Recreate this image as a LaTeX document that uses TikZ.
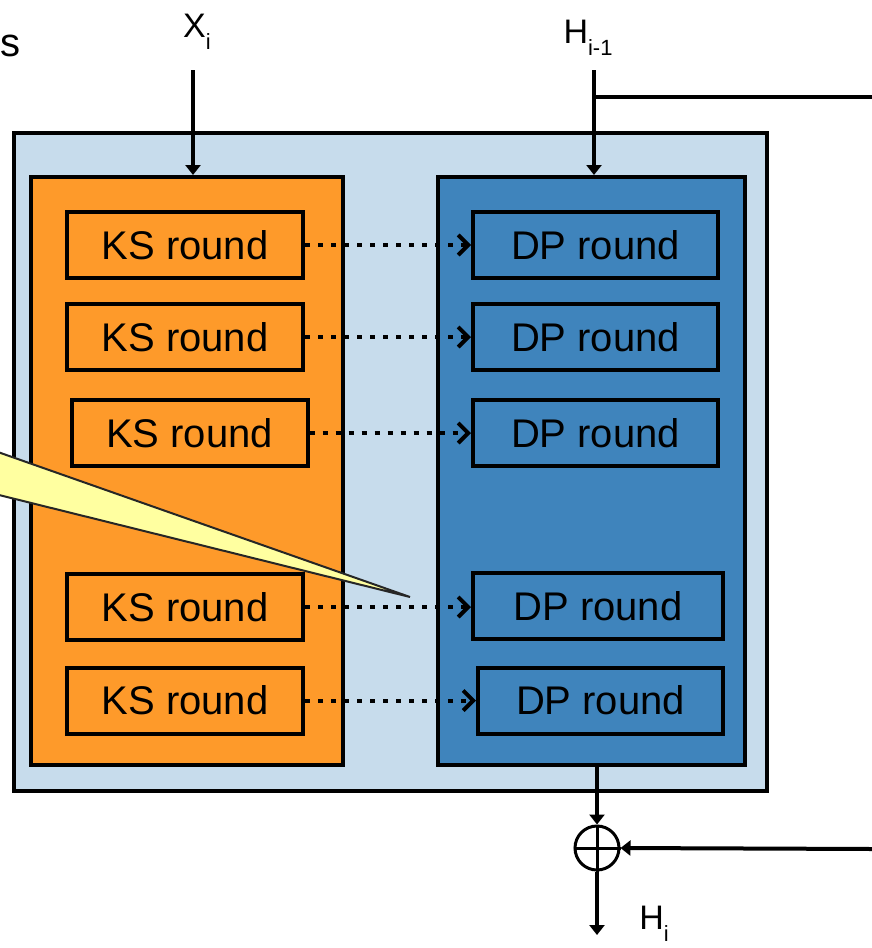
\documentclass[tikz,border=0pt]{standalone}
\usepackage{fontspec}
\setmainfont{Liberation Sans}
\usetikzlibrary{arrows.meta}
\definecolor{lightbg}{RGB}{199,220,236}
\definecolor{orangefill}{RGB}{254,154,42}
\definecolor{bluefill}{RGB}{63,132,188}
\definecolor{calloutyellow}{RGB}{255,255,160}
\tikzset{
  panel/.style={draw=black, line width=4pt, inner sep=0pt},
  roundbox/.style={draw=black, line width=4pt, minimum height=66pt, inner sep=0pt,
    font=\fontsize{40}{44}\selectfont},
  dotarrow/.style={line width=4pt, dash pattern=on 5pt off 8pt,
    -{Straight Barb[length=10pt,width=20pt,line width=4pt]}},
  solidarrow/.style={line width=4pt, -{Triangle[length=10pt,width=15pt]}},
  solidline/.style={line width=4pt},
  lbl/.style={font=\fontsize{34}{38}\selectfont, inner sep=0pt},
}
\newcommand{\mysub}[1]{\raisebox{-0.35em}{\fontsize{22}{24}\selectfont #1}}
\begin{document}
\begin{tikzpicture}[x=1pt,y=-1pt]
\useasboundingbox (0,0) rectangle (872,948);
\fill[white] (0,0) rectangle (872,948);

% panels
\node[panel, fill=lightbg, minimum width=753pt, minimum height=658pt] (outer) at (390.5,462) {};
\node[panel, fill=orangefill, minimum width=312pt, minimum height=588pt] (ks) at (187,471) {};
\node[panel, fill=bluefill, minimum width=307pt, minimum height=588pt] (dp) at (591.5,471) {};

% KS rounds
\node[roundbox, fill=orangefill, minimum width=236pt] (ks1) at (185,245) {KS round};
\node[roundbox, fill=orangefill, minimum width=236pt] (ks2) at (185,337) {KS round};
\node[roundbox, fill=orangefill, minimum width=236pt] (ks3) at (189.5,433) {KS round};
\node[roundbox, fill=orangefill, minimum width=236pt] (ks4) at (185,607) {KS round};
\node[roundbox, fill=orangefill, minimum width=236pt] (ks5) at (185,700.5) {KS round};

% DP rounds
\node[roundbox, fill=bluefill, minimum width=245pt] (dp1) at (595.5,245) {DP round};
\node[roundbox, fill=bluefill, minimum width=245pt] (dp2) at (595.5,337) {DP round};
\node[roundbox, fill=bluefill, minimum width=245pt] (dp3) at (595.5,433) {DP round};
\node[roundbox, fill=bluefill, minimum width=250pt] (dp4) at (598,606) {DP round};
\node[roundbox, fill=bluefill, minimum width=245pt] (dp5) at (600.5,700.5) {DP round};

% dotted arrows
\draw[dotarrow] (ks1.east) -- (dp1.west);
\draw[dotarrow] (ks2.east) -- (dp2.west);
\draw[dotarrow] (ks3.east) -- (dp3.west);
\draw[dotarrow] (ks4.east) -- (ks4.east -| dp4.west);
\draw[dotarrow] (ks5.east) -- (ks5.east -| dp5.west);

% inputs
\node[lbl] (xi) at (197,32) {X\mysub{i}};
\coordinate (xtop) at (193,70);
\draw[solidarrow] (xtop) -- (xtop |- ks.north);

\node[lbl] (hin) at (588,38) {H\mysub{i-1}};
\coordinate (htop) at (594,70);
\draw[solidarrow] (htop) -- (htop |- dp.north);
\coordinate (hbr) at (594,97);
\coordinate (hright) at (872,97);
\draw[solidline] (hbr) -- (hright);

% feed-forward xor
\node[circle, draw=black, line width=3pt, minimum size=44pt, inner sep=0pt] (xor) at (597,848) {};
\draw[line width=3pt] (xor.north) -- (xor.south) (xor.west) -- (xor.east);
\coordinate (dpout) at (597,765);
\draw[solidarrow] (dpout) -- (xor.north);
\coordinate (rin) at (872,849);
\draw[solidarrow] (rin) -- (xor.east);
\coordinate (hout) at (597,935);
\draw[solidarrow] (xor.south) -- (hout);
\node[lbl] (hi) at (654,924) {H\mysub{i}};

% cut-off text at top left
\node[anchor=base east, inner sep=0pt, font=\fontsize{40}{44}\selectfont] (stext) at (21,56) {s};

% callout wedge
\filldraw[fill=calloutyellow, draw=black!85, line width=2pt] (-5,451) -- (410,597) -- (-5,494) -- cycle;
\end{tikzpicture}
\end{document}
